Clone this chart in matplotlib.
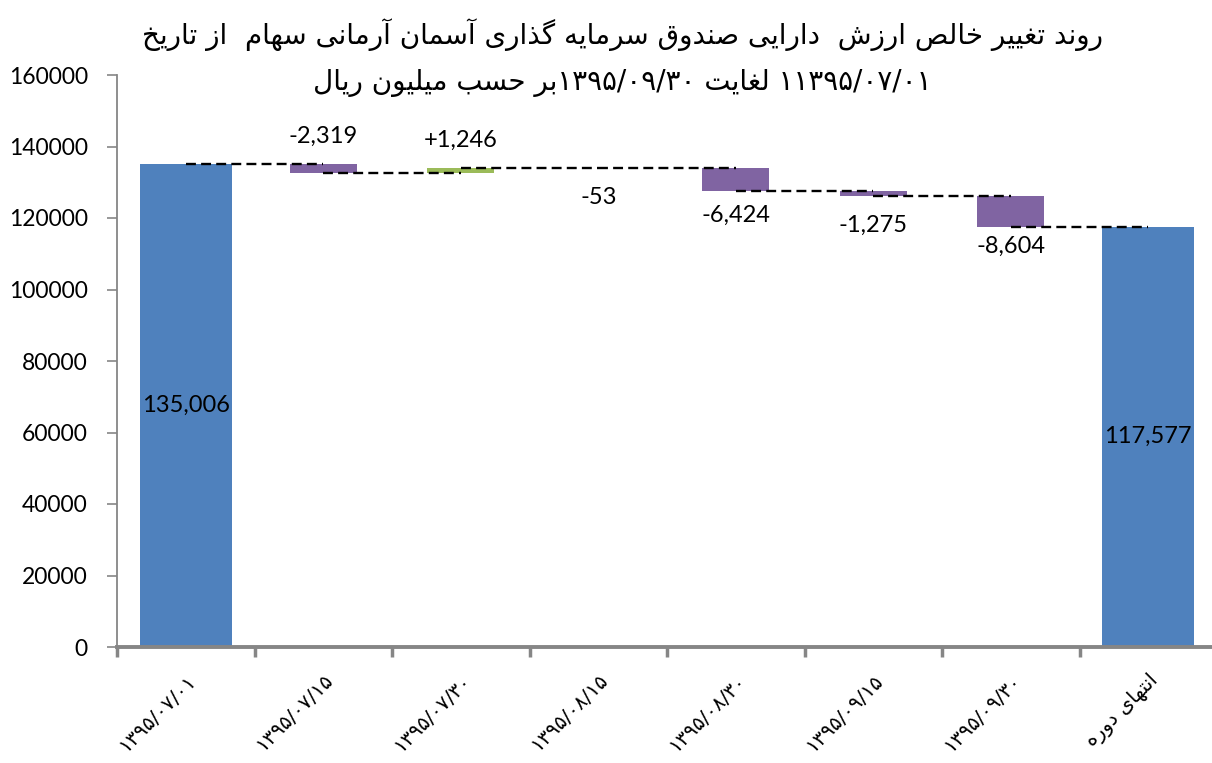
import re
import matplotlib
matplotlib.use('Agg')
import matplotlib.pyplot as plt
import numpy as np


# data (million rial)
categories = ['۱۳۹۵/۰۷/۰۱', '۱۳۹۵/۰۷/۱۵', '۱۳۹۵/۰۷/۳۰', '۱۳۹۵/۰۸/۱۵',
              '۱۳۹۵/۰۸/۳۰', '۱۳۹۵/۰۹/۱۵', '۱۳۹۵/۰۹/۳۰', 'انتهای دوره']
start_value = 135006
changes = [-2319, 1246, -53, -6424, -1275, -8604]
end_value = 117577

title_line1 = 'روند تغییر خالص ارزش  دارایی صندوق سرمایه گذاری آسمان آرمانی سهام  از تاریخ'
title_line2 = '۱۱۳۹۵/۰۷/۰۱ لغایت ۱۳۹۵/۰۹/۳۰بر حسب میلیون ریال'

y_ticks = [0, 20000, 40000, 60000, 80000, 100000, 120000, 140000, 160000]

# label offsets in pixels (positive = above the bar top, negative = below the bar bottom)
label_offsets = [28, 28, -29, -24, -29, -20]


# matplotlib has no arabic shaping, so pick the presentation forms by hand
# (isolated, final, initial, medial); two entries = joins only to the right
FORMS = {
    'ا': ('\uFE8D', '\uFE8E'), 'آ': ('\uFE81', '\uFE82'),
    'د': ('\uFEA9', '\uFEAA'), 'ذ': ('\uFEAB', '\uFEAC'),
    'ر': ('\uFEAD', '\uFEAE'), 'ز': ('\uFEAF', '\uFEB0'),
    'و': ('\uFEED', '\uFEEE'),
    'ب': ('\uFE8F', '\uFE90', '\uFE91', '\uFE92'),
    'ت': ('\uFE95', '\uFE96', '\uFE97', '\uFE98'),
    'ح': ('\uFEA1', '\uFEA2', '\uFEA3', '\uFEA4'),
    'خ': ('\uFEA5', '\uFEA6', '\uFEA7', '\uFEA8'),
    'س': ('\uFEB1', '\uFEB2', '\uFEB3', '\uFEB4'),
    'ش': ('\uFEB5', '\uFEB6', '\uFEB7', '\uFEB8'),
    'ص': ('\uFEB9', '\uFEBA', '\uFEBB', '\uFEBC'),
    'غ': ('\uFECD', '\uFECE', '\uFECF', '\uFED0'),
    'ق': ('\uFED5', '\uFED6', '\uFED7', '\uFED8'),
    'ل': ('\uFEDD', '\uFEDE', '\uFEDF', '\uFEE0'),
    'م': ('\uFEE1', '\uFEE2', '\uFEE3', '\uFEE4'),
    'ن': ('\uFEE5', '\uFEE6', '\uFEE7', '\uFEE8'),
    'ه': ('\uFEE9', '\uFEEA', '\uFEEB', '\uFEEC'),
    'ی': ('\uFBFC', '\uFBFD', '\uFBFE', '\uFBFF'),
    'گ': ('\uFB92', '\uFB93', '\uFB94', '\uFB95'),
}


def farsi(text):
    """Shape persian text and return it in visual (left to right) order"""
    out = []
    for i, ch in enumerate(text):
        if ch not in FORMS:
            out.append(ch)
            continue
        prev = text[i - 1] if i > 0 else ''
        nxt = text[i + 1] if i + 1 < len(text) else ''
        join_prev = prev in FORMS and len(FORMS[prev]) == 4
        join_next = len(FORMS[ch]) == 4 and nxt in FORMS
        f = FORMS[ch]
        if join_prev and join_next:
            out.append(f[3])
        elif join_prev:
            out.append(f[1])
        elif join_next:
            out.append(f[2])
        else:
            out.append(f[0])
    rev = ''.join(out)[::-1]
    digits = '\u06F0-\u06F90-9'
    pat = '[%s][%s/.,]*[%s]|[%s]' % (digits, digits, digits, digits)
    return re.sub(pat, lambda m: m.group(0)[::-1], rev)


# waterfall levels
levels = [start_value]
for c in changes:
    levels.append(levels[-1] + c)

W, H = 1212, 763
fig = plt.figure(figsize=(W / 100, H / 100), dpi=100)
ax = fig.add_axes([117 / W, 1 - 647 / H, 1100 / W, 572 / H])

x = np.arange(len(categories))
blue = '#4F81BD'
purple = '#8064A2'
green = '#9BBB59'

ax.bar(x[0], start_value, width=0.67, color=blue, zorder=2)
ax.bar(x[-1], end_value, width=0.67, color=blue, zorder=2)
for i, c in enumerate(changes):
    lo = min(levels[i], levels[i + 1])
    ax.bar(x[i + 1], abs(c), bottom=lo, width=0.485,
           color=green if c > 0 else purple, zorder=2)

# dashed connectors from the centre of one bar to the centre of the next
for i in range(len(levels)):
    ax.plot([x[i], x[i + 1]], [levels[i], levels[i]], color='black',
            linestyle=(0, (4.2, 2.2)), linewidth=1.7, zorder=3)

lato = ['Lato', 'DejaVu Sans']
ax.text(x[0], start_value / 2, f'{start_value:,}', ha='center', va='center',
        fontsize=17, family=lato, zorder=4)
ax.text(x[-1], end_value / 2, f'{end_value:,}', ha='center', va='center',
        fontsize=17, family=lato, zorder=4)
for i, c in enumerate(changes):
    off = label_offsets[i] * 0.72
    yref = max(levels[i], levels[i + 1]) if off > 0 else min(levels[i], levels[i + 1])
    ax.annotate(f'{c:+,}', xy=(x[i + 1], yref), xytext=(0, off),
                textcoords='offset points', ha='center', va='center',
                fontsize=17, family=lato, zorder=4)

ax.set_xlim(-0.5, len(categories) - 0.5)
ax.set_ylim(0, 160000)
ax.set_yticks(y_ticks)
ax.set_yticklabels([str(v) for v in y_ticks], family=lato, fontsize=16.5)

ax.set_xticks(x)
ax.set_xticklabels([farsi(c) for c in categories], rotation=45, ha='right',
                   rotation_mode='anchor', family=['DejaVu Sans'], fontsize=14.5)
ax.set_xticks(np.arange(len(categories) + 1) - 0.5, minor=True)
ax.tick_params(axis='x', which='major', length=0, pad=17)
ax.tick_params(axis='x', which='minor', length=7, width=2.5, color='#868686')
ax.tick_params(axis='y', length=7, width=1.2, color='#868686', pad=14)

for s in ['top', 'right']:
    ax.spines[s].set_visible(False)
ax.spines['left'].set_color('#868686')
ax.spines['left'].set_linewidth(1.3)
ax.spines['bottom'].set_color('#868686')
ax.spines['bottom'].set_linewidth(2.8)
ax.spines['bottom'].set_zorder(5)

fig.text(622 / W, 1 - 35 / H, farsi(title_line1), ha='center', va='center',
         fontsize=20, family=['DejaVu Sans'])
fig.text(622 / W, 1 - 83 / H, farsi(title_line2), ha='center', va='center',
         fontsize=20, family=['DejaVu Sans'])

fig.savefig('out.png', dpi=100)
